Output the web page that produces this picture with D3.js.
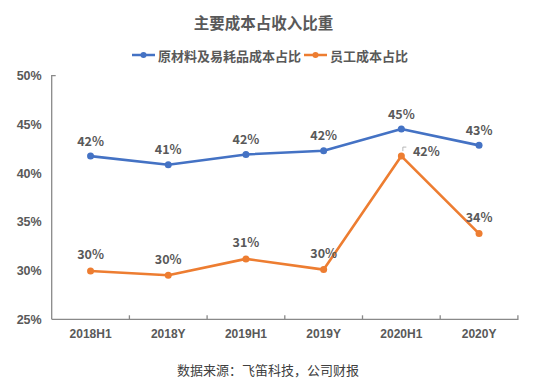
<!DOCTYPE html>
<html><head><meta charset="utf-8">
<script src="https://cdn.jsdelivr.net/npm/d3@7"></script>
<style>body{margin:0;background:#fff;} svg{display:block;font-family:"Noto Sans CJK SC","Microsoft YaHei",sans-serif;}</style>
</head><body><div id="chart"></div>
<script>
const categories = ["2018H1","2018Y","2019H1","2019Y","2020H1","2020Y"];
const materialCost = [41.75, 40.86, 41.92, 42.3, 44.52, 42.85];
const materialLabels = ["42%","41%","42%","42%","45%","43%"];
const staffCost = [29.96, 29.52, 31.2, 30.1, 41.75, 33.8];
const staffLabels = ["30%","30%","31%","30%","42%","34%"];
const yTicks = [25, 30, 35, 40, 45, 50];
const seriesNames = ["原材料及易耗品成本占比","员工成本占比"];
const colors = ["#4472C4","#ED7D31"];
const titleText = "主要成本占收入比重";
const sourceText = "数据来源：飞笛科技，公司财报";

(function(){
const W = 553, H = 385;
const svg = d3.select("#chart").append("svg").attr("width", W).attr("height", H);
const mLeft = 51.7, mRight = 517.9, mTop = 75.7, mBottom = 319.3;
const x = d3.scaleBand().domain(categories).range([mLeft, mRight]).padding(0);
const y = d3.scaleLinear().domain([25, 50]).range([mBottom, mTop]);
const textColor = "#595959";

svg.append("text").attr("x", 263.5).attr("y", 22).attr("text-anchor","middle").attr("dominant-baseline","central")
  .attr("font-size", 15.5).attr("font-weight","bold").attr("fill", textColor).text(titleText);

// legend
const legendItems = [{x0:132, tx:158}, {x0:304, tx:330}];
seriesNames.forEach((n,i)=>{
  const g = svg.append("g");
  const it = legendItems[i];
  g.append("line").attr("x1", it.x0).attr("x2", it.x0+23).attr("y1",55).attr("y2",55)
    .attr("stroke", colors[i]).attr("stroke-width", 2.5);
  g.append("circle").attr("cx", it.x0+11.5).attr("cy",55).attr("r",3).attr("fill", colors[i]);
  g.append("text").attr("x", it.tx).attr("y", 55).attr("dominant-baseline","central")
    .attr("font-size", 13).attr("font-weight","bold").attr("fill", textColor).text(n);
});

// y axis
const yAxis = svg.append("g").attr("transform", `translate(${mLeft},0)`)
  .call(d3.axisLeft(y).tickValues(yTicks).tickFormat(d=>d+"%").tickSize(0).tickPadding(10));
yAxis.select(".domain").attr("stroke","#898989").attr("stroke-width",1.3).attr("d", `M4,${mTop}H0V${mBottom}`);
yAxis.selectAll("text").attr("font-size", 12.5).attr("font-weight","bold").attr("fill", textColor);

// x axis
const xAxis = svg.append("g").attr("transform", `translate(0,${mBottom})`)
  .call(d3.axisBottom(x).tickSize(0).tickPadding(10));
xAxis.select(".domain").attr("stroke","#898989").attr("stroke-width",1.3).attr("d", `M${mLeft},0H${mRight}V-4`);
xAxis.selectAll("text").attr("font-size", 12).attr("font-weight","bold").attr("fill", textColor);
const boundaries = categories.slice(1).map(c => x(c));
xAxis.selectAll(".bnd").data(boundaries).enter().append("line")
  .attr("x1", d=>d).attr("x2", d=>d).attr("y1", 0).attr("y2", -4).attr("stroke","#898989").attr("stroke-width",1.3);

const cx = c => x(c) + x.bandwidth()/2;
const line = d3.line().x((d,i)=>cx(categories[i])).y(d=>y(d));
[materialCost, staffCost].forEach((vals,i)=>{
  svg.append("path").datum(vals).attr("d", line).attr("fill","none")
    .attr("stroke", colors[i]).attr("stroke-width", 2.6).attr("stroke-linejoin","round");
  svg.selectAll(".pt"+i).data(vals).enter().append("circle")
    .attr("cx",(d,j)=>cx(categories[j])).attr("cy", d=>y(d)).attr("r", 3.5).attr("fill", colors[i]);
});

// labels
materialCost.forEach((v,j)=>{
  svg.append("text").attr("x", cx(categories[j])).attr("y", y(v)-16).attr("text-anchor","middle")
    .attr("dominant-baseline","central").attr("font-size",12.5).attr("font-weight","bold").attr("fill", textColor)
    .text(materialLabels[j]);
});
staffCost.forEach((v,j)=>{
  let lx = cx(categories[j]), ly = y(v)-17;
  if (j === 4) {
    lx = cx(categories[j]) + 25; ly = y(v) - 6;
    svg.append("path").attr("d", `M${cx(categories[j])+1.5},${y(v)-5}V${y(v)-9}H${cx(categories[j])+5}`)
      .attr("fill","none").attr("stroke","#a6a6a6").attr("stroke-width",0.8);
  }
  svg.append("text").attr("x", lx).attr("y", ly).attr("text-anchor","middle")
    .attr("dominant-baseline","central").attr("font-size",12.5).attr("font-weight","bold").attr("fill", textColor)
    .text(staffLabels[j]);
});

svg.append("text").attr("x", 268).attr("y", 369).attr("text-anchor","middle").attr("dominant-baseline","central")
  .attr("font-size", 13).attr("fill", "#404040").text(sourceText);
})();
</script></body></html>
